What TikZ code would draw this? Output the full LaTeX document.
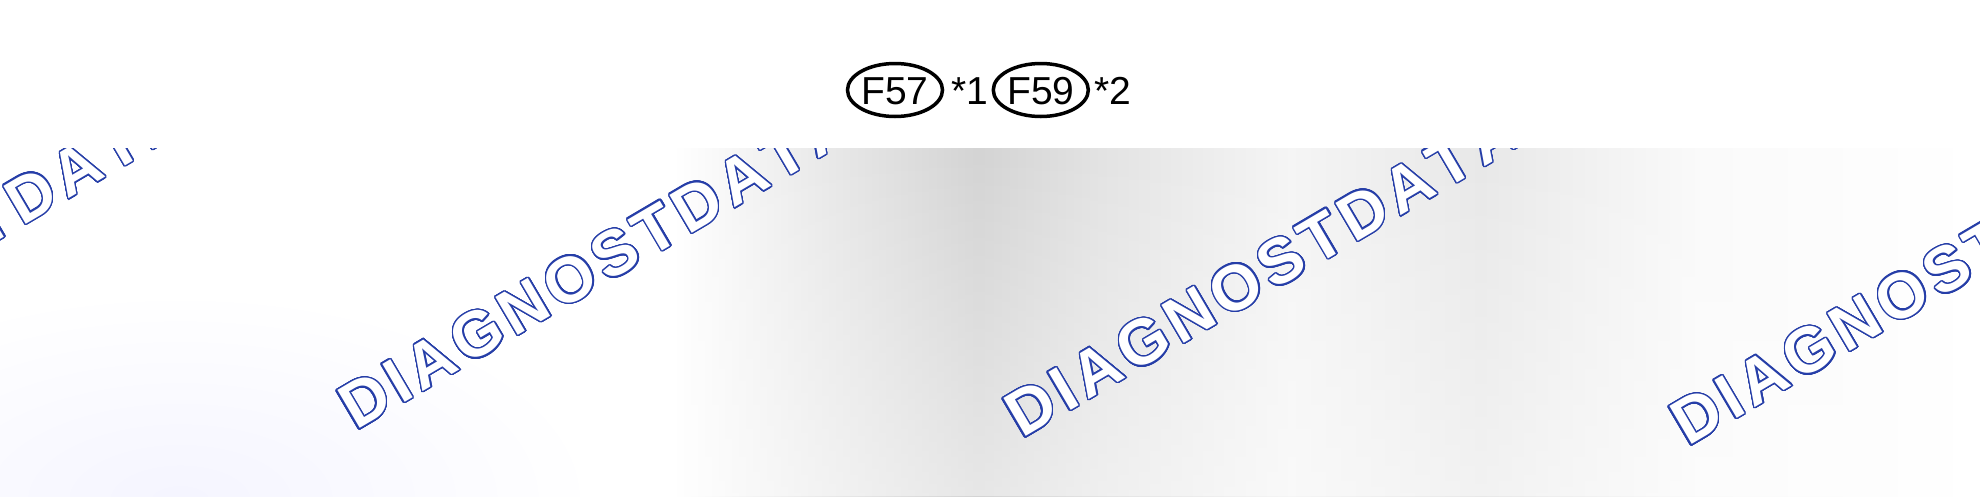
\documentclass[tikz,border=0pt]{standalone}
\usepackage{fontspec}
\setmainfont{Liberation Sans}
\usepackage{contour}
\contourlength{1.4pt}
\contournumber{32}
\usetikzlibrary{shapes.geometric,positioning,fadings}

\definecolor{wmblue}{RGB}{38,62,168}
\pgfdeclarehorizontalshading{backdrop}{100bp}{color(0bp)=(white); color(25bp)=(white);
  color(42bp)=(white); color(46bp)=(black!9); color(49.7bp)=(black!17);
  color(52.8bp)=(black!11); color(57.6bp)=(black!4); color(62.4bp)=(black!9);
  color(67.9bp)=(black!2); color(75bp)=(white); color(100bp)=(white)}
\tikzfading[name=wmfade, top color=transparent!100, bottom color=transparent!55]
\newcommand\wmgap{\kern6pt}
\newcommand\wmword{D\wmgap I\wmgap A\wmgap G\wmgap N\wmgap O\wmgap S\wmgap T\wmgap D\wmgap A\wmgap T\wmgap A}

\begin{document}
\begin{tikzpicture}[x=1pt,y=-1pt,
  tag/.style={ellipse,draw,line width=3.5pt,inner sep=0pt,minimum width=93pt,minimum height=53pt},
  lbl/.style={font=\fontsize{39}{39}\selectfont,text height=28pt,text depth=0pt},
  wm/.style={anchor=base west,inner sep=0pt,rotate=30.5,text=white,font=\fontsize{64}{64}\selectfont\bfseries}]
  \useasboundingbox (0,0) rectangle (1980,496);
  % backdrop
  \fill[white] (0,0) rectangle (1980,496);
  \begin{scope}
    \clip (0,148) rectangle (1980,496);
    \shade[shading=backdrop] (0,148) rectangle (1980,496);
    \fill[white,path fading=wmfade] (0,148) rectangle (1980,496);
    \shade[inner color=blue!4!white,outer color=white] (180,500) ellipse (420 and 210);
    % watermark
    \foreach \wx/\wy in {-310/422,356/431,1022/439,1688/447}
      \node[wm] at (\wx,\wy) {\contour{wmblue}{\wmword}};
  \end{scope}
  % connector tags
  \node[tag,lbl] (f57) at (895,90) {F57};
  \node[lbl,inner sep=0pt,right=7pt of f57] (star1) {*1};
  \node[tag,lbl,right=3pt of star1] (f59) {F59};
  \node[lbl,inner sep=0pt,right=4pt of f59] (star2) {*2};
\end{tikzpicture}
\end{document}
